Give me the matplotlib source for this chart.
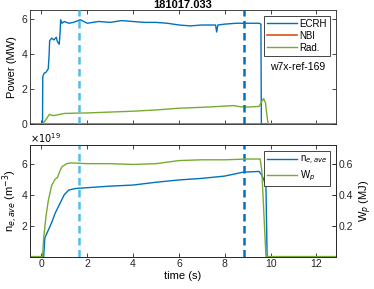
import numpy as np
import matplotlib.pyplot as plt

# power traces (MW)
t_ecrh = [-0.5, 0.05, 0.06, 0.12, 0.2, 0.3, 0.34, 0.36, 0.45, 0.55, 0.65, 0.7, 0.78, 0.82, 0.84, 0.9,
          1.0, 1.2, 1.4, 1.7, 2.0, 2.5, 3.0, 3.5, 4.0, 4.5, 5.0, 5.5, 6.0, 6.5, 7.0, 7.6, 7.65, 7.7,
          8.0, 8.5, 9.0, 9.5, 9.58, 9.6, 13]
p_ecrh = [0, 0, 2.7, 2.9, 2.95, 3.15, 4.0, 4.75, 4.9, 4.8, 4.95, 4.7, 4.55, 5.3, 5.95, 5.75,
          5.85, 5.75, 5.8, 5.95, 5.75, 5.85, 5.8, 5.9, 5.85, 5.8, 5.8, 5.75, 5.65, 5.6, 5.65, 5.65, 5.25, 5.65,
          5.7, 5.75, 5.75, 5.75, 5.7, 0, 0]
t_nbi = [-0.5, 13]
p_nbi = [0, 0]
t_rad = [-0.5, 0.05, 0.2, 0.35, 0.45, 0.55, 0.8, 1.0, 1.5, 2.0, 3.0, 4.0, 5.0, 6.0, 7.0, 8.0, 8.4,
         8.7, 9.0, 9.5, 9.6, 9.7, 9.78, 9.85, 9.9, 13]
p_rad = [0, 0, 0.25, 0.55, 0.5, 0.48, 0.55, 0.6, 0.62, 0.63, 0.68, 0.73, 0.8, 0.9, 0.95, 1.02, 1.05,
         0.98, 0.97, 1.0, 1.25, 1.45, 1.2, 0.4, 0, 0]

# density (1e19 m^-3) and stored energy (MJ)
t_ne = [-0.5, 0.1, 0.15, 0.3, 0.45, 0.6, 0.8, 1.0, 1.2, 1.5, 2.0, 3.0, 4.0, 5.0, 6.0, 7.0, 8.0, 8.8,
        9.5, 9.6, 9.7, 9.78, 9.8, 9.85, 13]
ne = [0, 0, 1.2, 1.7, 2.2, 2.8, 3.4, 4.0, 4.3, 4.4, 4.45, 4.55, 4.62, 4.8, 4.95, 5.05, 5.2, 5.45,
      5.5, 5.3, 5.0, 4.6, 4.5, 0, 0]
t_wp = [-0.5, 0.05, 0.1, 0.2, 0.3, 0.45, 0.6, 0.7, 0.8, 0.9, 1.1, 1.3, 2.0, 3.0, 4.0, 5.0, 6.0,
        7.0, 8.0, 9.0, 9.55, 9.62, 9.8, 13]
wp = [0, 0, 0.12, 0.26, 0.36, 0.46, 0.5, 0.51, 0.55, 0.58, 0.6, 0.605, 0.6, 0.6, 0.595, 0.6, 0.62,
      0.625, 0.625, 0.63, 0.63, 0.55, 0, 0]

t_marks = [1.65, 8.85]
mark_colors = ['#4DBEEE', '#0072BD']

plt.rcParams['font.family'] = 'Liberation Sans'
plt.rcParams['font.size'] = 7.5
axc = '#262626'

fig = plt.figure(figsize=(3.74, 2.89), dpi=100)
ax1 = fig.add_axes([0.080, 0.571, 0.818, 0.394])
ax2 = fig.add_axes([0.080, 0.112, 0.818, 0.386])

def style(ax):
    for s in ax.spines.values():
        s.set_color(axc)
        s.set_linewidth(0.6)
    ax.tick_params(direction='in', length=3, width=0.6, colors=axc, top=True, right=True, pad=2)

def legend(ax, handles=None):
    kw = dict(loc='upper right', fontsize=7, frameon=True, fancybox=False, framealpha=1,
              borderpad=0.3, handlelength=3.1, handletextpad=0.3, labelspacing=0.2,
              borderaxespad=0.6)
    leg = ax.legend(handles=handles, **kw) if handles else ax.legend(**kw)
    leg.get_frame().set_edgecolor(axc)
    leg.get_frame().set_linewidth(0.6)
    return leg

ax1.plot(t_ecrh, p_ecrh, color='#0072BD', lw=1, label='ECRH')
ax1.plot(t_nbi, p_nbi, color='#D95319', lw=1.2, label='NBI')
ax1.plot(t_rad, p_rad, color='#77AC30', lw=1, label='Rad.')
ax1.set_xlim(-0.5, 12.85)
ax1.set_ylim(0, 6.5)
ax1.set_yticks([0, 2, 4, 6])
ax1.set_xticks(range(0, 13, 2))
ax1.set_xticklabels([])
ax1.set_ylabel('Power (MW)', labelpad=3, fontsize=8)
ax1.set_title('181017.033', fontweight='bold', fontsize=8, pad=1)
legend(ax1)
ax1.text(0.876, 0.50, 'w7x-ref-169', transform=ax1.transAxes, ha='center', va='center',
         fontsize=7.5)
style(ax1)

ax3 = ax2.twinx()
l1, = ax2.plot(t_ne, ne, color='#0072BD', lw=1, label=r'n$_{e,ave}$')
l2, = ax3.plot(t_wp, wp, color='#77AC30', lw=1, label=r'W$_p$')
ax2.set_xlim(-0.5, 12.85)
ax2.set_ylim(0, 7.2)
ax3.set_ylim(0, 0.72)
ax2.set_yticks([2, 4, 6])
ax3.set_yticks([0.2, 0.4, 0.6])
ax2.set_xticks(range(0, 13, 2))
ax2.set_xlabel('time (s)', labelpad=1, fontsize=8)
ax2.set_ylabel(r'n$_{e,ave}$ (m$^{-3}$)', labelpad=1, fontsize=8)
ax3.set_ylabel(r'W$_p$ (MJ)', labelpad=3, fontsize=8)
ax2.text(0.0, 1.005, r'$\times10^{19}$', transform=ax2.transAxes, fontsize=7, va='bottom')
legend(ax2, [l1, l2])
style(ax2)
style(ax3)
ax3.tick_params(left=False, top=False)

for ax in (ax1, ax2):
    for tm, c in zip(t_marks, mark_colors):
        ax.axvline(tm, color=c, lw=1.8, ls=(0, (3, 1.8)), zorder=5)

fig.savefig('out.png', dpi=100)
